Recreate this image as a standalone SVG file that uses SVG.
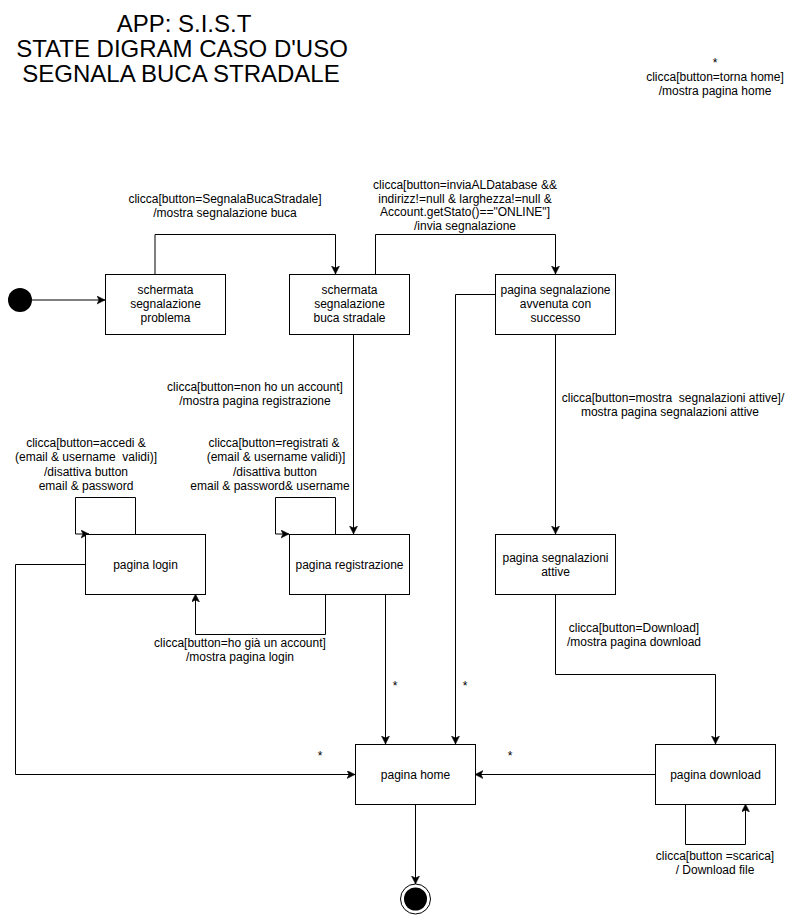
<svg xmlns="http://www.w3.org/2000/svg" width="796" height="915" viewBox="0 0 796 915">
  <style>
    text { font-family: "Liberation Sans", Arial, Helvetica, sans-serif; font-size: 12px; fill: #000; text-anchor: middle; }
    .title { font-size: 24px; }
    .state { fill: #fff; stroke: #000; stroke-width: 1; }
    .edge { fill: none; stroke: #000; stroke-width: 1; }
    .arr { marker-end: url(#arrow); }
  </style>
  <defs>
    <marker id="arrow" markerUnits="userSpaceOnUse" markerWidth="10" markerHeight="10" refX="8" refY="4" orient="auto">
      <path d="M0,0 L8,4 L0,8 L2,4 Z" fill="#000" stroke="#000" stroke-width="0.5"/>
    </marker>
  </defs>
  <rect width="796" height="915" fill="#fff"/>

  <!-- Title -->
  <g id="title">
    <text class="title" x="184" y="32">APP: S.I.S.T</text>
    <text class="title" x="182" y="57">STATE DIGRAM CASO D'USO</text>
    <text class="title" x="181" y="82">SEGNALA BUCA STRADALE</text>
  </g>

  <!-- Connectors -->
  <g id="connectors">
    <path class="edge arr" d="M32,300 L105,300"/>
    <path class="edge arr" d="M155,274 L155,234.5 L335.5,234.5 L335.5,274"/>
    <path class="edge arr" d="M375.5,274 L375.5,234.5 L555.5,234.5 L555.5,274"/>
    <path class="edge arr" d="M353.5,334 L353.5,534"/>
    <path class="edge arr" d="M135.5,534 L135.5,497.5 L75.5,497.5 L75.5,534 L89,534"/>
    <path class="edge arr" d="M335.5,534 L335.5,497.5 L275.5,497.5 L275.5,534 L289,534"/>
    <path class="edge arr" d="M325.5,594 L325.5,634.5 L195.5,634.5 L195.5,594"/>
    <path class="edge arr" d="M385.5,594 L385.5,744"/>
    <path class="edge arr" d="M495,294.5 L455.5,294.5 L455.5,744"/>
    <path class="edge arr" d="M85,564.5 L15.5,564.5 L15.5,774.5 L355,774.5"/>
    <path class="edge arr" d="M555.5,334 L555.5,534"/>
    <path class="edge arr" d="M555.5,594 L555.5,674.5 L715.5,674.5 L715.5,744"/>
    <path class="edge arr" d="M655,774.5 L475,774.5"/>
    <path class="edge arr" d="M685.5,804 L685.5,844.5 L745.5,844.5 L745.5,804"/>
    <path class="edge arr" d="M415.5,804 L415.5,884"/>
  </g>

  <!-- Transition labels -->
  <g id="labels">
    <text x="225" y="203">clicca[button=SegnalaBucaStradale]</text>
    <text x="225" y="217">/mostra segnalazione buca</text>

    <text x="465" y="189">clicca[button=inviaALDatabase &amp;&amp;</text>
    <text x="465" y="202.5">indirizz!=null &amp; larghezza!=null &amp;</text>
    <text x="465" y="216">Account.getStato()=="ONLINE"]</text>
    <text x="465" y="229.5">/invia segnalazione</text>

    <text x="255" y="391">clicca[button=non ho un account]</text>
    <text x="255" y="405">/mostra pagina registrazione</text>

    <text x="86" y="447">clicca[button=accedi &amp;</text>
    <text x="86" y="461" xml:space="preserve">(email &amp; username  validi)]</text>
    <text x="86" y="476">/disattiva button</text>
    <text x="86" y="490">email &amp; password</text>

    <text x="274" y="447">clicca[button=registrati &amp;</text>
    <text x="276" y="461">(email &amp; username validi)]</text>
    <text x="275" y="476">/disattiva button</text>
    <text x="270" y="490">email &amp; password&amp; username</text>

    <text x="240" y="647">clicca[button=ho già un account]</text>
    <text x="240" y="661">/mostra pagina login</text>

    <text x="673" y="402" xml:space="preserve">clicca[button=mostra  segnalazioni attive]/</text>
    <text x="670" y="416">mostra pagina segnalazioni attive</text>

    <text x="634" y="632">clicca[button=Download]</text>
    <text x="634" y="646">/mostra pagina download</text>

    <text x="715" y="860">clicca[button =scarica]</text>
    <text x="715" y="874">/ Download file</text>

    <text x="715" y="67">*</text>
    <text x="715" y="81">clicca[button=torna home]</text>
    <text x="715" y="95">/mostra pagina home</text>

    <text x="395" y="690">*</text>
    <text x="465" y="690">*</text>
    <text x="320" y="760">*</text>
    <text x="510" y="760">*</text>
  </g>

  <!-- States -->
  <g id="initial">
    <circle cx="20" cy="300" r="12" fill="#000"/>
  </g>

  <g id="schermata-problema">
    <rect class="state" x="105.5" y="274.5" width="120" height="60"/>
    <text x="165.5" y="294">schermata</text>
    <text x="165.5" y="308">segnalazione</text>
    <text x="165.5" y="322">problema</text>
  </g>

  <g id="schermata-buca">
    <rect class="state" x="289.5" y="274.5" width="120" height="60"/>
    <text x="349.5" y="294">schermata</text>
    <text x="349.5" y="308">segnalazione</text>
    <text x="349.5" y="322">buca stradale</text>
  </g>

  <g id="segnalazione-avvenuta">
    <rect class="state" x="495.5" y="274.5" width="120" height="60"/>
    <text x="555.5" y="294">pagina segnalazione</text>
    <text x="555.5" y="308">avvenuta con</text>
    <text x="555.5" y="322">successo</text>
  </g>

  <g id="pagina-login">
    <rect class="state" x="85.5" y="534.5" width="120" height="60"/>
    <text x="145.5" y="568.5">pagina login</text>
  </g>

  <g id="pagina-registrazione">
    <rect class="state" x="289.5" y="534.5" width="120" height="60"/>
    <text x="349.5" y="568.5">pagina registrazione</text>
  </g>

  <g id="segnalazioni-attive">
    <rect class="state" x="495.5" y="534.5" width="120" height="60"/>
    <text x="555.5" y="561.5">pagina segnalazioni</text>
    <text x="555.5" y="575.5">attive</text>
  </g>

  <g id="pagina-home">
    <rect class="state" x="355.5" y="744.5" width="120" height="60"/>
    <text x="415.5" y="778.5">pagina home</text>
  </g>

  <g id="pagina-download">
    <rect class="state" x="655.5" y="744.5" width="120" height="60"/>
    <text x="715.5" y="778.5">pagina download</text>
  </g>

  <g id="final">
    <circle cx="415.5" cy="899" r="15" fill="#fff" stroke="#000" stroke-width="1"/>
    <circle cx="415.5" cy="899" r="11.5" fill="#000"/>
  </g>
</svg>
